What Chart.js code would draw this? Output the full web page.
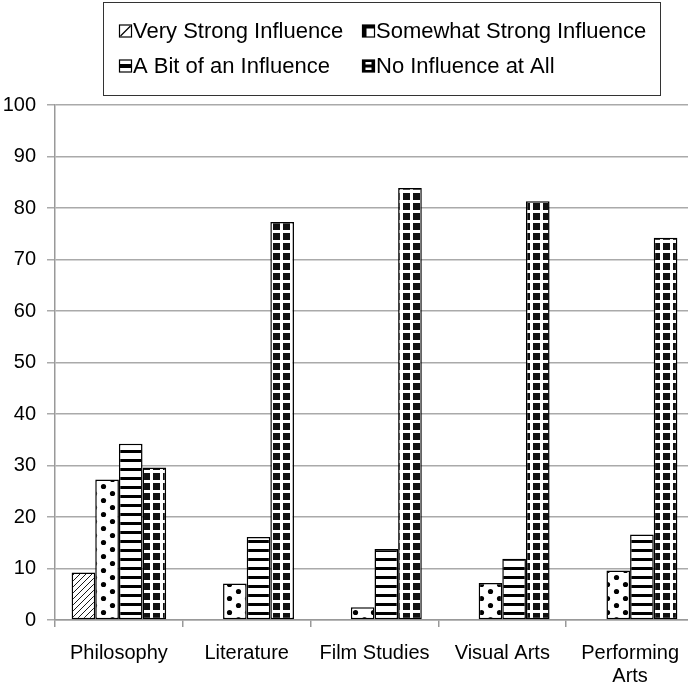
<!DOCTYPE html>
<html>
<head>
<meta charset="utf-8">
<script src="https://cdn.jsdelivr.net/npm/chart.js@4/dist/chart.umd.min.js"></script>
<style>
  html, body { margin:0; padding:0; background:#fff; overflow:hidden; }
  #wrap { position:relative; width:694px; height:687px; }
</style>
</head>
<body>
<div id="wrap"><canvas id="chart"></canvas></div>
<script>
// data
const categories = ['Philosophy', 'Literature', 'Film Studies', 'Visual Arts', ['Performing', 'Arts']];
const seriesNames = ['Very Strong Influence', 'Somewhat Strong Influence', 'A Bit of an Influence', 'No Influence at All'];
const veryStrong     = [9.2, 0, 0, 0, 0];
const somewhatStrong = [27.3, 7.1, 2.5, 7.2, 9.6];
const aBit           = [34.2, 16.1, 13.8, 11.9, 16.6];
const noInfluence    = [29.6, 77.3, 83.9, 81.3, 74.2];
const yTicks = [0, 10, 20, 30, 40, 50, 60, 70, 80, 90, 100];

const FONT = '"Liberation Sans", Arial, sans-serif';

// fill patterns (black & white, like the print original)
function tile(w, h, draw){
  const c = document.createElement('canvas'); c.width = w; c.height = h;
  const g = c.getContext('2d'); draw(g, w, h);
  return g.createPattern(c, 'repeat');
}
const patHatch = tile(6, 6, (g, w, h)=>{
  g.fillStyle = '#fff'; g.fillRect(0, 0, w, h);
  g.strokeStyle = '#000'; g.lineWidth = 0.9;
  g.beginPath();
  g.moveTo(-1, 7); g.lineTo(7, -1);
  g.moveTo(-1, 1); g.lineTo(1, -1);
  g.moveTo(5, 7); g.lineTo(7, 5);
  g.stroke();
});
const patDots = tile(18, 14, (g, w, h)=>{
  g.fillStyle = '#fff'; g.fillRect(0, 0, w, h);
  g.fillStyle = '#000';
  [[4.5, 3.5], [13.5, 10.5]].forEach(([x, y])=>{ g.beginPath(); g.arc(x, y, 2.6, 0, Math.PI*2); g.fill(); });
});
const patStripes = tile(4, 9, (g, w, h)=>{
  g.fillStyle = '#fff'; g.fillRect(0, 0, w, h);
  g.fillStyle = '#000'; g.fillRect(0, 0, w, 3);
});
const patGrid = tile(10, 10, (g, w, h)=>{
  g.fillStyle = '#111'; g.fillRect(0, 0, w, h);
  g.fillStyle = '#fff'; g.fillRect(0, 0, 3, h); g.fillRect(0, 0, w, 3);
});

// small legend icons, drawn by hand
const icons = [
  (g, x, y, s)=>{ g.fillStyle='#fff'; g.fillRect(x, y, s, s); g.strokeRect(x, y, s, s);
                  g.beginPath(); g.moveTo(x+1, y+s-1); g.lineTo(x+s-1, y+1); g.stroke(); },
  (g, x, y, s)=>{ g.fillStyle='#fff'; g.fillRect(x, y, s, s);
                  g.fillStyle='#000'; g.fillRect(x, y, 4, s); g.fillRect(x, y, s, 3.5);
                  g.strokeRect(x, y, s, s); },
  (g, x, y, s)=>{ g.fillStyle='#fff'; g.fillRect(x, y, s, s);
                  g.fillStyle='#000'; g.fillRect(x, y+s/2-2, s, 4); g.strokeRect(x, y, s, s); },
  (g, x, y, s)=>{ g.fillStyle='#000'; g.fillRect(x, y, s, s);
                  g.fillStyle='#fff'; g.fillRect(x+3, y+2, s-6, s/2-3.5); g.fillRect(x+3, y+s/2+1.5, s-6, s/2-3.5);
                  g.strokeRect(x, y, s, s); }
];

const boxLegend = {
  id: 'boxLegend',
  afterDraw(chart, args, opts){
    const g = chart.ctx;
    g.save();
    g.strokeStyle = '#333'; g.lineWidth = 1;
    g.strokeRect(opts.box[0]+0.5, opts.box[1]+0.5, opts.box[2], opts.box[3]);
    g.font = `22px ${FONT}`; g.textBaseline = 'middle'; g.fillStyle = '#000';
    chart.data.datasets.forEach((ds, i)=>{
      const x = opts.cols[i % 2], y = opts.rows[Math.floor(i / 2)];
      g.strokeStyle = '#000'; g.lineWidth = 1.2;
      icons[i](g, x + 0.5, y - 6, 12);
      g.fillStyle = '#000';
      g.fillText(ds.label, x + 14, y + 1);
    });
    g.restore();
  }
};

const fills = [patHatch, patDots, patStripes, patGrid];
const values = [veryStrong, somewhatStrong, aBit, noInfluence];

new Chart(document.getElementById('chart'), {
  type: 'bar',
  data: {
    labels: categories,
    datasets: seriesNames.map((name, i)=>({
      label: name,
      data: values[i],
      backgroundColor: fills[i],
      borderColor: '#000',
      borderWidth: 1.5,
      borderSkipped: false,
      categoryPercentage: 0.74,
      barPercentage: 1.0
    }))
  },
  options: {
    responsive: true, maintainAspectRatio: false,
    animation: false,
    layout: { padding: { top: 105, right: 0, left: 0, bottom: 0 } },
    plugins: {
      legend: { display: false },
      tooltip: { enabled: false },
      boxLegend: { box: [103, 2, 557, 93], cols: [119, 362], rows: [31, 66] }
    },
    scales: {
      x: {
        offset: true,
        afterFit: s=>{ s.height = 67; },
        grid: { drawOnChartArea: false, drawTicks: true, tickLength: 7, color: '#999', lineWidth: 1.5, offset: true },
        border: { color: '#999', width: 1.5 },
        ticks: { color: '#000', font: { family: FONT, size: 20, lineHeight: 1.15 }, padding: 15, maxRotation: 0, autoSkip: false }
      },
      y: {
        min: 0, max: 100,
        afterFit: s=>{ s.width = 55; },
        afterBuildTicks: s=>{ s.ticks = yTicks.map(v=>({ value: v })); },
        grid: { color: '#aaa', lineWidth: 1.5, tickLength: 8 },
        border: { color: '#999', width: 1.5 },
        ticks: { color: '#000', font: { family: FONT, size: 20 }, padding: 11 }
      }
    }
  },
  plugins: [boxLegend]
});
</script>
</body>
</html>
